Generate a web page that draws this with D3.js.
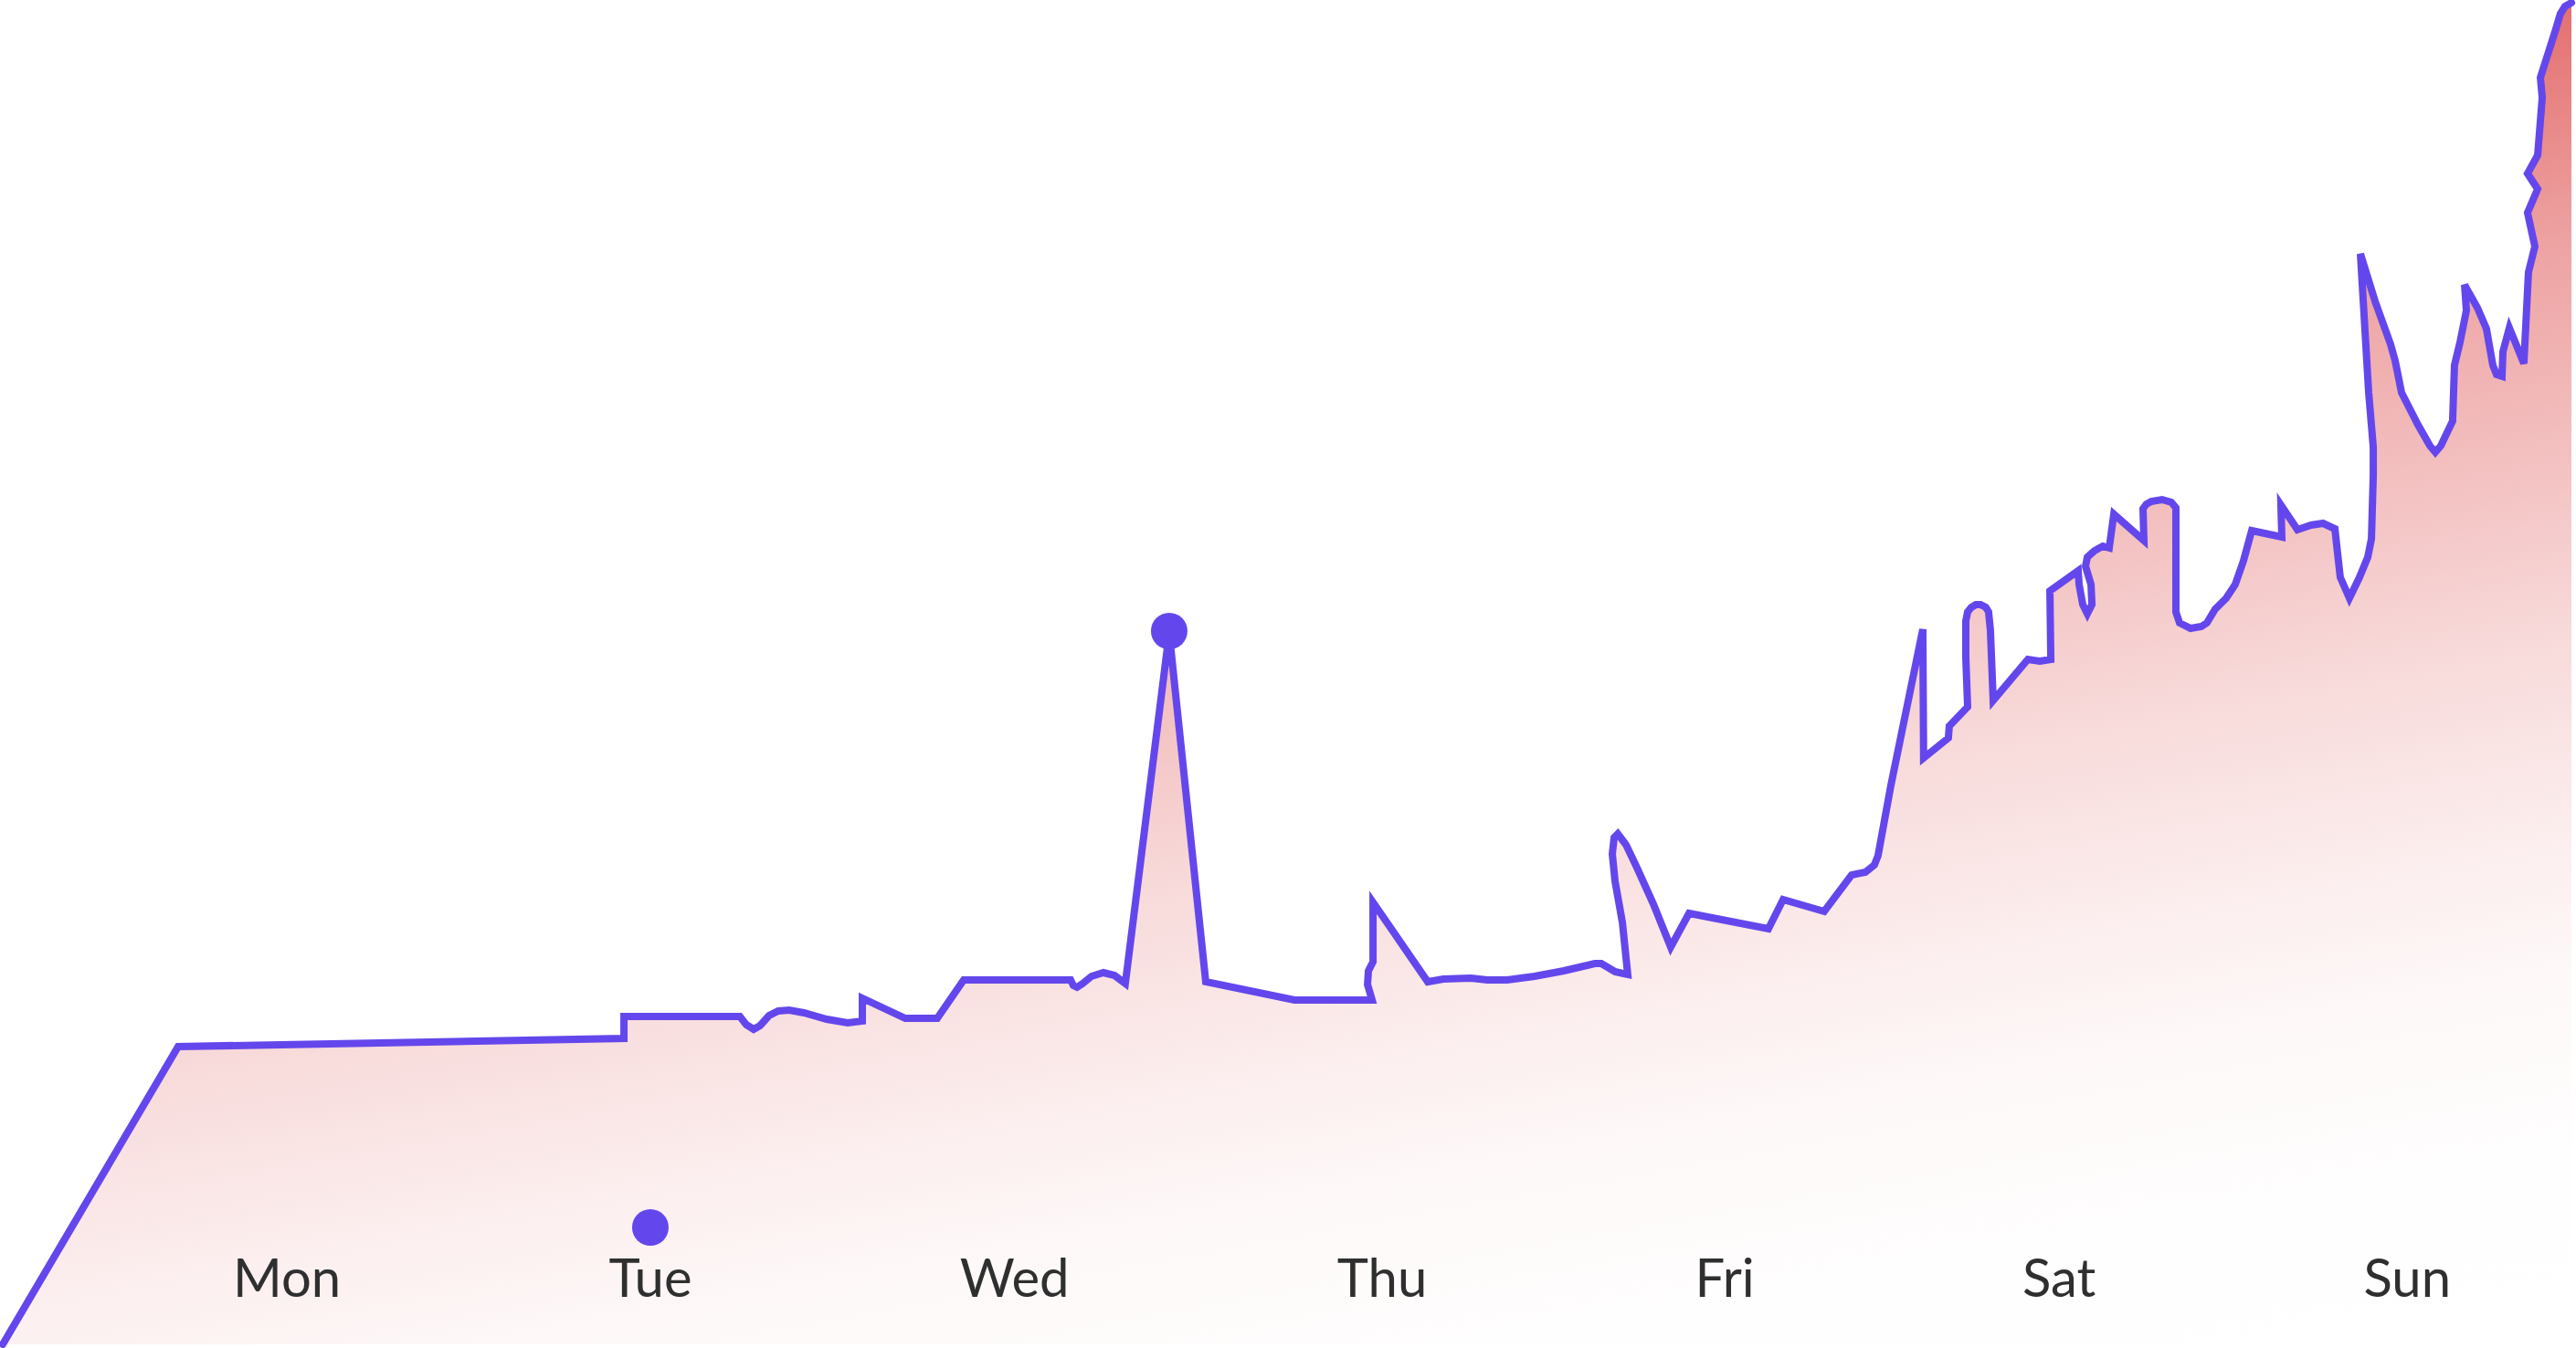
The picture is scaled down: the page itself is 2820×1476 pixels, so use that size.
<!DOCTYPE html>
<html>
<head>
<meta charset="utf-8">
<script src="https://cdn.jsdelivr.net/npm/d3@7"></script>
<style>
  html, body { margin: 0; padding: 0; background: #fff; }
  svg { display: block; }
  .day-label { font-family: Lato, "Open Sans", sans-serif; font-size: 58px; fill: #2f2f2f; }
</style>
</head>
<body>
<div id="chart"></div>
<script>

// hours since Monday 00:00
var hours = [0, 11.47, 40.63, 40.63, 48.21, 48.63, 49.11, 49.53, 50.12, 50.72,
    51.44, 52.40, 53.89, 55.26, 56.22, 56.22, 59.03, 61.12, 62.85, 69.84,
    70.02, 70.26, 70.62, 71.21, 71.99, 72.71, 73.42, 76.29, 78.68, 84.48,
    89.56, 89.26, 89.32, 89.62, 89.62, 93.20, 94.22, 96.01, 97.08, 98.40,
    100.19, 102.10, 104.13, 104.55, 105.45, 106.28, 105.93, 105.45, 105.27, 105.39,
    105.63, 106.17, 106.88, 107.96, 109.09, 110.29, 115.48, 116.44, 119.13, 120.92,
    121.82, 122.41, 122.65, 123.49, 125.58, 125.63, 127.25, 127.31, 128.51, 128.39,
    128.39, 128.51, 128.75, 129.05, 129.35, 129.70, 129.88, 130.00, 130.18, 132.45,
    133.23, 133.95, 133.89, 135.74, 135.80, 136.04, 136.34, 136.64, 136.58, 136.22,
    136.34, 136.81, 137.35, 137.77, 138.07, 140.04, 139.98, 140.20, 140.52, 141.23,
    141.83, 142.13, 142.13, 142.37, 143.09, 143.80, 144.16, 144.70, 145.42, 146.01,
    146.55, 147.09, 149.06, 149.00, 150.08, 150.97, 151.75, 152.53, 152.70, 152.88,
    153.48, 154.14, 154.68, 154.92, 155.04, 155.04, 154.74, 154.20, 155.16, 156.17,
    156.47, 156.89, 157.96, 158.74, 159.10, 159.46, 160.23, 160.35, 160.71, 161.13,
    161.01, 161.85, 162.44, 162.86, 163.10, 163.46, 163.52, 163.94, 164.89, 165.19,
    165.61, 165.13, 165.79, 165.13, 165.79, 166.09, 165.97, 166.92, 167.28, 167.58,
    168.00];

var values = [0, 32.6, 33.5, 35.9, 35.9, 35.0, 34.5, 34.9, 36.0, 36.5,
    36.6, 36.3, 35.6, 35.2, 35.4, 37.9, 35.7, 35.7, 39.9, 39.9,
    39.3, 39.1, 39.5, 40.3, 40.7, 40.4, 39.5, 77.9, 39.7, 37.7,
    37.7, 39.4, 40.9, 41.9, 48.4, 39.7, 40.0, 40.1, 39.9, 39.9,
    40.3, 40.9, 41.7, 41.7, 40.8, 40.5, 46.2, 50.7, 53.7, 55.5,
    55.9, 54.7, 52.2, 48.2, 43.5, 47.2, 45.5, 48.7, 47.4, 51.4,
    51.7, 52.5, 53.5, 61.2, 78.3, 64.2, 66.4, 67.7, 69.8, 75.2,
    79.2, 80.2, 80.7, 81.0, 81.0, 80.7, 80.2, 78.2, 70.5, 75.0,
    74.8, 75.0, 82.5, 84.7, 83.2, 81.0, 80.0, 81.0, 83.2, 85.2,
    86.2, 86.9, 87.4, 87.2, 90.9, 88.0, 91.5, 92.0, 92.3, 92.5,
    92.2, 91.6, 80.2, 79.0, 78.4, 78.6, 79.0, 80.5, 81.7, 83.2,
    85.8, 89.1, 88.4, 91.9, 89.2, 89.7, 89.9, 89.3, 86.7, 84.0,
    81.7, 84.0, 86.2, 88.2, 95.2, 98.2, 104.2, 119.4, 114.2, 109.5,
    107.7, 104.2, 100.7, 98.4, 97.7, 98.4, 101.1, 107.2, 109.7, 113.2,
    116.0, 113.5, 111.2, 107.2, 106.2, 106.0, 108.7, 111.3, 107.4, 117.4,
    120.2, 123.9, 126.5, 128.2, 130.2, 136.5, 138.7, 143.7, 145.7, 146.5,
    146.9];

var dayLabels = ["Mon", "Tue", "Wed", "Thu", "Fri", "Sat", "Sun"];
var currentDay = "Tue";
var peakHour = 76.29;   // highlighted spike

var chart = {
    svgWidth: 2820,
    svgHeight: 1476,
    lineColor: "#6447ec",
    fillColor: "#e46f6f",
    labelStart: 255,
    labelEnd: 2683,
    labelBaseline: 1420,
};

var points = hours.map((h, i) => ({hour: h, value: values[i]}));

var svg = d3.select("#chart").append("svg")
    .attr("width", chart.svgWidth)
    .attr("height", chart.svgHeight);

var xScale = d3.scaleLinear()
    .domain([0, 168])
    .range([3, 2815]);

var yScale = d3.scaleLinear()
    .domain([0, 147])
    .range([1472, 2]);

// fill gradient, strong red in the top right fading out towards the bottom
var grad = svg.append("defs").append("linearGradient")
    .attr("id", "fillGrad")
    .attr("gradientUnits", "userSpaceOnUse")
    .attr("x1", 2815).attr("y1", 0)
    .attr("x2", 3072).attr("y2", 1426);

[[0, 1], [0.18, 0.64], [0.47, 0.26], [0.62, 0.12], [0.72, 0.05], [0.85, 0.01], [1, 0]]
    .forEach(function(s) {
        grad.append("stop")
            .attr("offset", s[0])
            .attr("stop-color", chart.fillColor)
            .attr("stop-opacity", s[1]);
    });

var area = d3.area()
    .x(d => xScale(d.hour))
    .y0(yScale(0))
    .y1(d => yScale(d.value));

var line = d3.line()
    .x(d => xScale(d.hour))
    .y(d => yScale(d.value));

svg.append("path")
    .datum(points)
    .attr("class", "area")
    .attr("d", area)
    .attr("fill", "url(#fillGrad)");

svg.append("path")
    .datum(points)
    .attr("class", "line")
    .attr("d", line)
    .attr("fill", "none")
    .attr("stroke", chart.lineColor)
    .attr("stroke-width", 8)
    .attr("stroke-linejoin", "miter")
    .attr("stroke-linecap", "round");

// dot on the spike
var peak = points.find(d => d.hour == peakHour);
svg.append("circle")
    .attr("class", "peak-dot")
    .attr("cx", xScale(peak.hour))
    .attr("cy", yScale(peak.value) - 2)
    .attr("r", 20)
    .attr("fill", chart.lineColor);

// day labels spread with equal gaps between them
var labels = svg.selectAll("text.day-label")
    .data(dayLabels)
    .enter().append("text")
    .attr("class", "day-label")
    .attr("y", chart.labelBaseline)
    .text(d => d);

var widths = [];
labels.each(function() { widths.push(this.getComputedTextLength()); });
var gap = (chart.labelEnd - chart.labelStart - d3.sum(widths)) / (dayLabels.length - 1);
var lx = chart.labelStart;
var centers = {};
labels.each(function(d, i) {
    d3.select(this).attr("x", lx);
    centers[d] = lx + widths[i] / 2;
    lx += widths[i] + gap;
});

// marker for the current day
svg.append("circle")
    .attr("class", "today-dot")
    .attr("cx", centers[currentDay])
    .attr("cy", chart.labelBaseline - 76)
    .attr("r", 20)
    .attr("fill", chart.lineColor);

</script>
</body>
</html>
